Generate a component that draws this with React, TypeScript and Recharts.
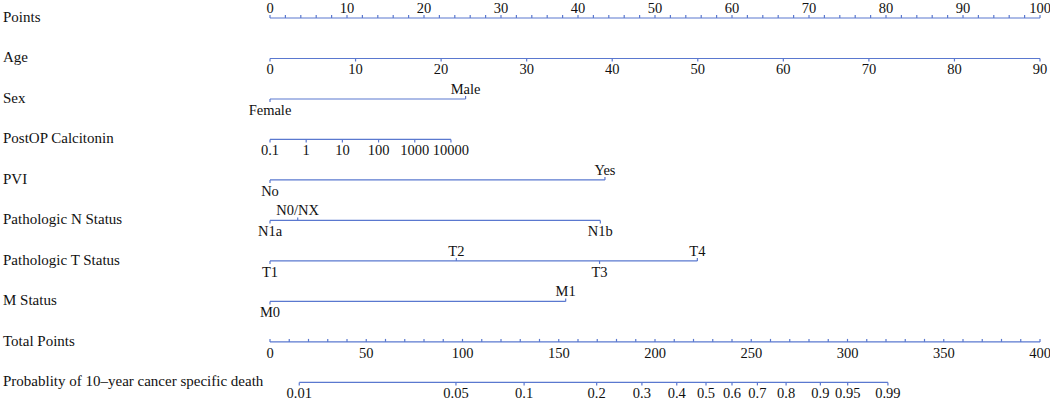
import { ComposedChart, Scatter, XAxis, YAxis } from 'recharts'

const BLUE = '#5a78cf'
const INK = '#111111'
const FONT = '"Liberation Serif", "DejaVu Serif", serif'

const rowTitles = [
  'Points',
  'Age',
  'Sex',
  'PostOP Calcitonin',
  'PVI',
  'Pathologic N Status',
  'Pathologic T Status',
  'M Status',
  'Total Points',
  'Probablity of 10\u2013year cancer specific death',
]

// points scale: 0..100, labels every 10, minor ticks every 2
const pointsLabels = [0, 10, 20, 30, 40, 50, 60, 70, 80, 90, 100]
const pointsMinorStep = 2

const ageTicks = [0, 10, 20, 30, 40, 50, 60, 70, 80, 90]
const ageMax = 90

const sexLevels = ['Female', 'Male']
const sexPoints = [0, 25.4]

const calcitoninLabels = ['0.1', '1', '10', '100', '1000', '10000']
const calcitoninPoints = [0, 4.7, 9.4, 14.1, 18.8, 23.5]

const pviLevels = ['No', 'Yes']
const pviPoints = [0, 43.5]

const nLevels = ['N1a', 'N0/NX', 'N1b']
const nPoints = [0, 3.6, 42.9]

const tLevels = ['T1', 'T2', 'T3', 'T4']
const tPoints = [0, 24.2, 42.8, 55.5]

const mLevels = ['M0', 'M1']
const mPoints = [0, 38.4]

const totalLabels = [0, 50, 100, 150, 200, 250, 300, 350, 400]
const totalMinorStep = 10
const totalMax = 400

const probLabels = ['0.01', '0.05', '0.1', '0.2', '0.3', '0.4', '0.5', '0.6', '0.7', '0.8', '0.9', '0.95', '0.99']
const probTotalPoints = [15.2, 96.6, 132, 169.7, 193.2, 211.3, 226.5, 240, 253.2, 268.1, 285.9, 300.1, 321]

type Side = 'up' | 'down'
interface Pt {
  x: number
  y: number
  label: string
  side: Side
  tick: Side
}

function categorical(row: number, levels: string[], pts: number[]): Pt[] {
  return levels
    .map((l, i) => ({ label: l, x: pts[i] }))
    .sort((a, b) => a.x - b.x)
    .map((d, i) => {
      const side: Side = i % 2 === 0 ? 'down' : 'up'
      return { x: d.x, y: row, label: d.label, side, tick: side }
    })
}

const pointsRow: Pt[] = []
for (let v = 0; v <= 100; v += pointsMinorStep) {
  pointsRow.push({ x: v, y: 0, label: pointsLabels.includes(v) ? String(v) : '', side: 'up', tick: 'up' })
}

const ageRow: Pt[] = ageTicks.map((a) => ({ x: (a / ageMax) * 100, y: 1, label: String(a), side: 'down', tick: 'down' }))
const sexRow = categorical(2, sexLevels, sexPoints)
const calcRow: Pt[] = calcitoninLabels.map((l, i) => ({ x: calcitoninPoints[i], y: 3, label: l, side: 'down', tick: 'down' }))
const pviRow = categorical(4, pviLevels, pviPoints)
const nRow = categorical(5, nLevels, nPoints)
const tRow = categorical(6, tLevels, tPoints)
const mRow = categorical(7, mLevels, mPoints)

const totalRow: Pt[] = []
for (let v = 0; v <= totalMax; v += totalMinorStep) {
  totalRow.push({ x: (v / totalMax) * 100, y: 8, label: totalLabels.includes(v) ? String(v) : '', side: 'down', tick: 'up' })
}

const probRow: Pt[] = probLabels.map((l, i) => ({
  x: (probTotalPoints[i] / totalMax) * 100,
  y: 9,
  label: l,
  side: 'down',
  tick: 'down',
}))

const rows = [pointsRow, ageRow, sexRow, calcRow, pviRow, nRow, tRow, mRow, totalRow, probRow]

const TickMark = (props: any) => {
  const { cx, cy, payload } = props
  if (cx == null || cy == null) return null
  const p = payload as Pt
  return (
    <g>
      <line x1={cx} x2={cx} y1={cy} y2={cy + (p.tick === 'up' ? -3 : 3)} stroke={BLUE} strokeWidth={1.2} />
      {p.label && (
        <text
          x={cx}
          y={cy + (p.side === 'up' ? -5 : 16)}
          textAnchor="middle"
          fontFamily={FONT}
          fontSize={14.5}
          fill={INK}
        >
          {p.label}
        </text>
      )}
    </g>
  )
}

const RowTitle = (props: any) => {
  const { y, payload } = props
  return (
    <text x={3} y={y + 4} textAnchor="start" fontFamily={FONT} fontSize={15} fill={INK}>
      {rowTitles[payload.value]}
    </text>
  )
}

export default function App() {
  return (
    <div style={{ position: 'absolute', left: 0, top: 0, background: '#fff' }}>
      <ComposedChart width={1050} height={401} margin={{ top: 18, right: 10, bottom: 18.6, left: 8 }}>
        <XAxis type="number" dataKey="x" domain={[0, 100]} hide />
        <YAxis
          type="number"
          dataKey="y"
          domain={[0, 9]}
          reversed
          ticks={[0, 1, 2, 3, 4, 5, 6, 7, 8, 9]}
          tick={<RowTitle />}
          axisLine={false}
          tickLine={false}
          width={262}
        />
        {rows.map((r, i) => (
          <Scatter
            key={i}
            data={r}
            line={{ stroke: BLUE, strokeWidth: 1.2 }}
            shape={<TickMark />}
            isAnimationActive={false}
          />
        ))}
      </ComposedChart>
    </div>
  )
}
